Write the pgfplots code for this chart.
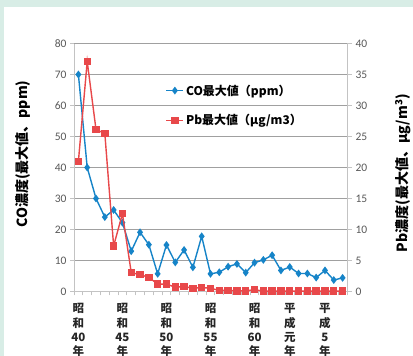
\documentclass[border=0pt]{standalone}
\usepackage{pgfplots}
\pgfplotsset{compat=1.18}
\usepackage{fontspec}
\setmainfont{Carlito}
\newfontfamily\cjk{Noto Sans CJK JP}
\definecolor{mint}{RGB}{216,237,230}
\definecolor{cob}{RGB}{22,132,200}
\definecolor{pbr}{RGB}{232,72,74}
\definecolor{gridc}{RGB}{160,160,160}
\definecolor{axc}{RGB}{195,195,195}
\definecolor{tickc}{RGB}{89,89,89}
\pgfplotstableread{
x co pb
0 70 21
1 40 37.1
2 30 26.1
3 24 25.5
4 26.3 7.35
5 22.2 12.55
6 13 3.05
7 19.1 2.7
8 15.1 2.3
9 5.7 1.18
10 15 1.18
11 9.4 0.7
12 13.4 0.8
13 7.8 0.53
14 17.8 0.64
15 5.7 0.53
16 6.2 0.16
17 8 0.2
18 8.9 0.1
19 6.1 0.1
20 9.3 0.3
21 10.2 0.05
22 11.7 0.05
23 6.8 0.05
24 7.9 0.05
25 5.8 0.05
26 5.8 0.05
27 4.5 0.05
28 6.8 0.05
29 3.7 0.05
30 4.4 0.05
}\datatable
\pgfplotsset{
  costyle/.style={color=cob, line width=1.4bp, mark=diamond*, mark size=2.8bp, mark options={solid}},
  pbstyle/.style={color=pbr, line width=1.4bp, mark=square*, mark size=3bp, mark options={solid}},
  common/.style={
    scale only axis, width=273bp, height=248bp,
    at={(74bp,64.5bp)}, anchor=south west,
    xmin=-0.5, xmax=30.5,
    tick align=outside,
    major tick length=5bp,
    ticklabel style={font=\fontsize{11.5bp}{13bp}\selectfont, text=tickc},
    /pgf/number format/assume math mode=true,
    axis line style={draw=axc, line width=0.9bp},
    tick style={draw=axc, line width=0.9bp},
    clip=false,
  },
}
\begin{document}
\begin{tikzpicture}
\fill[mint] (0,0) rectangle (413bp,356bp);
\fill[white] (4bp,0) rectangle (413bp,349bp);
\useasboundingbox (0,0) rectangle (413bp,356bp);
\begin{axis}[common,
  axis x line*=bottom, axis y line*=left,
  ymin=0, ymax=80, ytick={0,10,...,80},
  ymajorgrids, major grid style={draw=gridc, line width=1bp},
  xtick={-0.5,0.5,...,30.5}, xticklabels={},
  major tick length=4bp,
  extra x ticks={0,5,10,15,20,24,28},
  extra x tick labels={昭\\和\\40\\年,昭\\和\\45\\年,昭\\和\\50\\年,昭\\和\\55\\年,昭\\和\\60\\年,平\\成\\元\\年,平\\成\\5\\年},
  extra x tick style={major tick length=0pt, tick label style={font=\cjk\bfseries\fontsize{11.5bp}{14.3bp}\selectfont, text=black!85, align=center, anchor=north, inner sep=0pt, yshift=-12bp}},
  every axis y label/.style={at={(axis description cs:-0.187,0.554)}, rotate=90, anchor=center},
  ylabel={\cjk\bfseries\fontsize{14bp}{18bp}\selectfont CO濃度(最大値、ppm)},
]
\addplot[costyle] table[x=x,y=co] {\datatable};
\end{axis}
\begin{axis}[common,
  axis x line=none, axis y line*=right,
  ymin=0, ymax=40, ytick={0,5,...,40},
  every axis y label/.style={at={(axis description cs:1.205,0.478)}, rotate=90, anchor=center},
  ylabel={\cjk\bfseries\fontsize{14bp}{18bp}\selectfont Pb濃度(最大値、μg/m\textsuperscript{3})},
  legend style={at={(axis description cs:0.335,0.75)}, anchor=west, draw=none, fill=none, inner sep=0pt,
    font=\cjk\bfseries\fontsize{12bp}{14bp}\selectfont, row sep=14bp},
  legend cell align=left,
  legend image code/.code={\draw[#1, mark repeat=2, mark phase=2] plot coordinates {(0bp,0bp) (8.5bp,0bp) (17bp,0bp)};},
]
\addlegendimage{costyle}
\addlegendentry{CO最大値（ppm）}
\addplot[pbstyle] table[x=x,y=pb] {\datatable};
\addlegendentry{Pb最大値（μg/m3）}
\end{axis}
\end{tikzpicture}
\end{document}
